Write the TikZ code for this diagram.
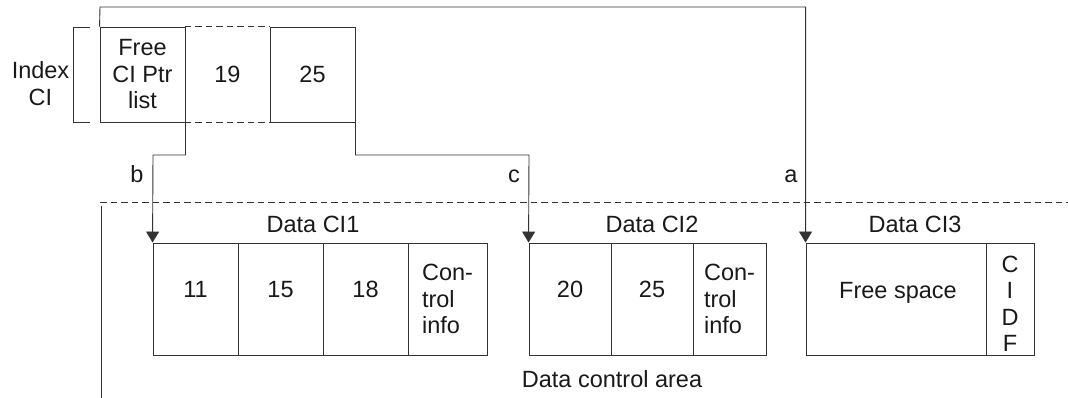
\documentclass[tikz,border=0pt]{standalone}
\usepackage{fontspec}
\setmainfont{Liberation Sans}
\usetikzlibrary{arrows.meta}
\begin{document}
\begin{tikzpicture}[x=1pt,y=-1pt,
  every node/.style={font=\fontsize{23.5}{26.5}\selectfont, inner sep=0pt, text=black!90},
  ln/.style={line width=0.9pt, draw=black!80},
  box/.style={ln, draw, rectangle, minimum height=95pt, align=center},
  cell/.style={ln, draw, rectangle, minimum height=112pt, align=center},
  arr/.style={ln, -{Triangle[width=13pt,length=11pt]}},
  dsh/.style={ln, dash pattern=on 6.5pt off 4pt},
  lbl/.style={anchor=base}
]
\useasboundingbox (0,0) rectangle (1068,398);

% Index CI
\node[box, minimum width=85pt] (free) at (142.5,74.5) {Free\\CI Ptr\\list};
\node[rectangle, minimum width=85pt, minimum height=95pt] (n19) at (227.5,74.5) {19};
\node[box, minimum width=85pt] (n25) at (312.5,74.5) {25};
\draw[dsh] (n19.north west) -- (n19.north east);
\draw[dsh] (n19.south west) -- (n19.south east);
\draw[ln] (90,27) -- (73,27) -- (73,122) -- (90,122);
\node[align=center] (idx) at (40.5,83.5) {Index\\CI};

% separator
\draw[dsh] (100,202.5) -- (1068,202.5);
\draw[ln] (101,206) -- (101,398);

% Data CI1
\node[cell, minimum width=85pt] (d11) at (195.5,299) {};
\node[cell, minimum width=85pt] (d15) at (280.5,299) {};
\node[cell, minimum width=85pt] (d18) at (365.5,299) {};
\node[cell, minimum width=79pt, align=left] (dc1) at (447.5,299) {Con-\\trol\\info};
\node[lbl] (t11) at (195.5,297) {11};
\node[lbl] (t15) at (280.5,297) {15};
\node[lbl] (t18) at (365.5,297) {18};
\node[lbl] (h1) at (313,233) {Data CI1};

% Data CI2
\node[cell, minimum width=82pt] (d20) at (570,299) {};
\node[cell, minimum width=82pt] (d25) at (652,299) {};
\node[cell, minimum width=73pt, align=left] (dc2) at (729.5,299) {Con-\\trol\\info};
\node[lbl] (t20) at (570,297) {20};
\node[lbl] (t25) at (652,297) {25};
\node[lbl] (h2) at (652,233) {Data CI2};

% Data CI3
\node[cell, minimum width=180pt] (fs) at (896,299) {};
\node[cell, minimum width=48pt] (cidf) at (1010,299) {};
\node[align=center] (tcidf) at (1010,304) {C\\I\\D\\F};
\node[lbl] (tfs) at (898,298) {Free space};
\node[lbl] (h3) at (915,233) {Data CI3};

\node[lbl] (dca) at (612,387) {Data control area};

% connectors
\coordinate (bturn) at (153,155);
\coordinate (cturn) at (529,155);
\coordinate (aturn) at (100,7);
\draw[arr] (free.south east) |- (bturn) -- (d11.north west);
\draw[arr] (n25.south east) |- (cturn) -- (d20.north west);
\draw[arr] (free.north west) -- (aturn) -| (fs.north west);

\node[lbl] (lb) at (137,183) {b};
\node[lbl] (lc) at (514,183) {c};
\node[lbl] (la) at (791,183) {a};
\end{tikzpicture}
\end{document}
